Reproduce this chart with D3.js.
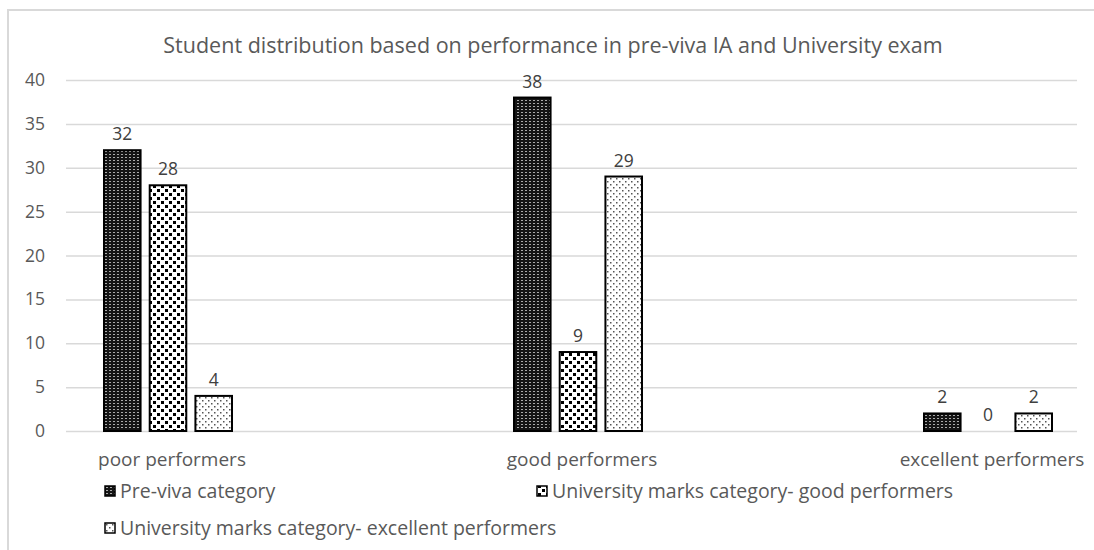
<!DOCTYPE html>
<html>
<head>
<meta charset="utf-8">
<script src="https://cdn.jsdelivr.net/npm/d3@7"></script>
<style>
  body { margin: 0; background: #fff; }
  text { font-family: "Open Sans", sans-serif; }
</style>
</head>
<body>
<svg width="1094" height="550"></svg>
<script>
  const categories = ['poor performers', 'good performers', 'excellent performers'];
  const seriesNames = ['Pre-viva category', 'University marks category- good performers', 'University marks category- excellent performers'];
  const preViva = [32, 38, 2];
  const uniGood = [28, 9, 0];
  const uniExcellent = [4, 29, 2];
  const yTicks = [0, 5, 10, 15, 20, 25, 30, 35, 40];

  const series = [preViva, uniGood, uniExcellent];
  const patternIds = ['pat0', 'pat1', 'pat2'];

  const svg = d3.select('svg');
  const defs = svg.append('defs');

  // dark: black with light dots in columns
  const p0 = defs.append('pattern').attr('id', 'pat0')
    .attr('patternUnits', 'userSpaceOnUse').attr('width', 4).attr('height', 3);
  p0.append('rect').attr('width', 4).attr('height', 3).attr('fill', '#151515');
  p0.append('rect').attr('x', 1).attr('y', 1).attr('width', 2).attr('height', 1).attr('fill', '#aaa');

  // white with black staggered squares
  const p1 = defs.append('pattern').attr('id', 'pat1')
    .attr('patternUnits', 'userSpaceOnUse').attr('width', 8).attr('height', 8);
  p1.append('rect').attr('width', 8).attr('height', 8).attr('fill', '#fff');
  p1.append('rect').attr('x', 1).attr('y', 1).attr('width', 3).attr('height', 3).attr('fill', '#000');
  p1.append('rect').attr('x', 5).attr('y', 5).attr('width', 3).attr('height', 3).attr('fill', '#000');

  // white with sparse small dots
  const p2 = defs.append('pattern').attr('id', 'pat2')
    .attr('patternUnits', 'userSpaceOnUse').attr('width', 6).attr('height', 6);
  p2.append('rect').attr('width', 6).attr('height', 6).attr('fill', '#fff');
  p2.append('rect').attr('x', 1).attr('y', 1).attr('width', 1.5).attr('height', 1.5).attr('fill', '#555');
  p2.append('rect').attr('x', 4).attr('y', 4).attr('width', 1.5).attr('height', 1.5).attr('fill', '#555');

  // chart border
  svg.append('rect')
    .attr('x', 8).attr('y', 10).attr('width', 1100).attr('height', 560)
    .attr('fill', 'none').attr('stroke', '#d9d9d9').attr('stroke-width', 2);

  svg.append('text')
    .attr('x', 553).attr('y', 53)
    .attr('text-anchor', 'middle')
    .attr('font-size', 21.5).attr('fill', '#595959')
    .text('Student distribution based on performance in pre-viva IA and University exam');

  const y = d3.scaleLinear().domain([0, 40]).range([431, 80]);
  const x = d3.scalePoint().domain(categories).range([168, 988]);
  const xSub = d3.scaleBand().domain([0, 1, 2]).range([-64, 64]).paddingInner(0.2);

  const yAxis = svg.append('g')
    .attr('transform', 'translate(66,0)')
    .call(d3.axisLeft(y).tickValues(yTicks).tickSize(-1011).tickPadding(21));
  yAxis.select('.domain').remove();
  yAxis.selectAll('.tick line').attr('stroke', '#d9d9d9').attr('stroke-width', 1.5);
  yAxis.selectAll('.tick text')
    .attr('font-size', 17.5).attr('fill', '#595959')
    .style('font-family', '"Open Sans", sans-serif');

  svg.append('g').selectAll('text')
    .data(categories)
    .join('text')
      .attr('x', d => x(d) + 4)
      .attr('y', 466)
      .attr('text-anchor', 'middle')
      .attr('font-size', 19).attr('fill', '#595959')
      .text(d => d);

  series.forEach((vals, si) => {
    const g = svg.append('g');
    g.selectAll('rect')
      .data(vals)
      .join('rect')
        .attr('x', (d, i) => x(categories[i]) + xSub(si))
        .attr('y', d => y(d))
        .attr('width', xSub.bandwidth())
        .attr('height', d => y(0) - y(d))
        .attr('fill', `url(#${patternIds[si]})`)
        .attr('stroke', d => d > 0 ? '#000' : 'none')
        .attr('stroke-width', 2);
    g.selectAll('text')
      .data(vals)
      .join('text')
        .attr('x', (d, i) => x(categories[i]) + xSub(si) + xSub.bandwidth() / 2)
        .attr('y', d => y(d) - 10)
        .attr('text-anchor', 'middle')
        .attr('font-size', 17.5).attr('fill', '#404040')
        .text(d => d);
  });

  const legendPos = [[105, 492], [537, 492], [105, 529]];
  const legend = svg.append('g').selectAll('g')
    .data(seriesNames)
    .join('g')
      .attr('transform', (d, i) => `translate(${legendPos[i][0]},${legendPos[i][1]})`);
  legend.append('rect')
    .attr('x', 0).attr('y', -6).attr('width', 10).attr('height', 10)
    .attr('fill', (d, i) => `url(#${patternIds[i]})`)
    .attr('stroke', '#000').attr('stroke-width', 1.5);
  legend.append('text')
    .attr('x', 15).attr('y', 6)
    .attr('font-size', 19.5).attr('fill', '#595959')
    .text(d => d);
</script>
</body>
</html>
